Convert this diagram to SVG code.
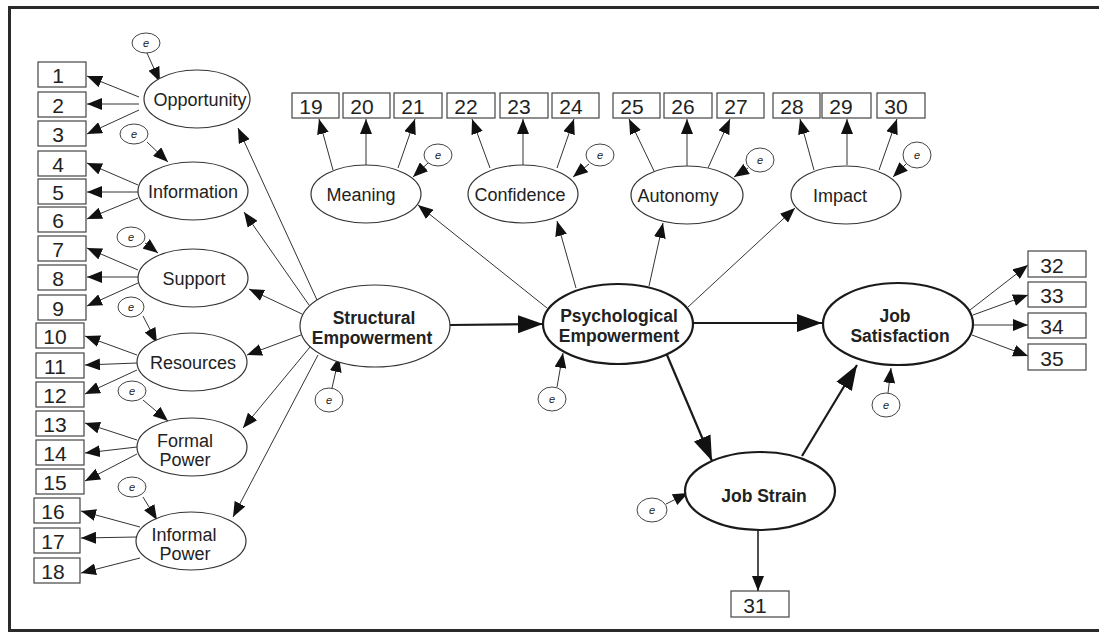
<svg xmlns="http://www.w3.org/2000/svg" width="1099" height="636" viewBox="0 0 1099 636">
<defs>
<marker id="ah" markerUnits="userSpaceOnUse" markerWidth="15" markerHeight="12" refX="15" refY="6" orient="auto"><path d="M0,0 L15,6 L0,12 z" fill="#111"/></marker>
<marker id="ahb" markerUnits="userSpaceOnUse" markerWidth="25" markerHeight="18" refX="25" refY="9" orient="auto"><path d="M0,0 L25,9 L0,18 z" fill="#111"/></marker>
</defs>
<style>
.box{fill:#fff;stroke:#444;stroke-width:1.2}
.lv{fill:#fff;stroke:#333;stroke-width:1.2}
.lvb{fill:#fff;stroke:#1a1a1a;stroke-width:2.2}
.err{fill:#fff;stroke:#444;stroke-width:1}
text{font-family:"Liberation Sans",Arial,sans-serif;fill:#222;text-anchor:middle}
.t{font-size:18px}
.tb{font-size:17.5px;font-weight:bold}
.num{font-size:21px}
.e{font-size:11px;font-style:italic}
.c{stroke:#333;stroke-width:1;fill:none;marker-end:url(#ah)}
.cm{stroke:#222;stroke-width:1.6;fill:none;marker-end:url(#ah)}
.cb{stroke:#1a1a1a;stroke-width:2.2;fill:none;marker-end:url(#ahb)}
</style>
<rect width="1099" height="636" fill="#fff"/>
<path d="M1099,7.5 L9.5,7.5 L9.5,630.5 L1099,630.5" fill="none" stroke="#2a2a2a" stroke-width="3"/>

<g id="connectors">
<!-- Opportunity -->
<line class="c" x1="147" y1="53" x2="160" y2="82"/>
<line class="c" x1="139" y1="97" x2="87" y2="76"/>
<line class="c" x1="139" y1="104" x2="87" y2="104"/>
<line class="c" x1="139" y1="110" x2="87" y2="134"/>
<!-- Information -->
<line class="c" x1="147" y1="142" x2="168" y2="162"/>
<line class="c" x1="138" y1="185" x2="87" y2="163"/>
<line class="c" x1="138" y1="192" x2="87" y2="192"/>
<line class="c" x1="138" y1="198" x2="87" y2="219"/>
<!-- Support -->
<line class="c" x1="145" y1="243" x2="158" y2="253"/>
<line class="c" x1="138" y1="270" x2="87" y2="248"/>
<line class="c" x1="138" y1="277" x2="87" y2="277"/>
<line class="c" x1="138" y1="283" x2="87" y2="306"/>
<!-- Resources -->
<line class="c" x1="143" y1="316" x2="157" y2="343"/>
<line class="c" x1="137" y1="355" x2="85" y2="336"/>
<line class="c" x1="137" y1="363" x2="85" y2="365"/>
<line class="c" x1="137" y1="370" x2="85" y2="394"/>
<!-- Formal Power -->
<line class="c" x1="143" y1="400" x2="168" y2="421"/>
<line class="c" x1="137" y1="440" x2="85" y2="423"/>
<line class="c" x1="137" y1="447" x2="85" y2="453"/>
<line class="c" x1="137" y1="454" x2="85" y2="481"/>
<!-- Informal Power -->
<line class="c" x1="143" y1="497" x2="157" y2="520"/>
<line class="c" x1="140" y1="527" x2="81" y2="511"/>
<line class="c" x1="137" y1="537" x2="81" y2="538"/>
<line class="c" x1="140" y1="558" x2="81" y2="573"/>
<!-- Structural Empowerment to dimensions -->
<line class="c" x1="317" y1="300" x2="238" y2="128"/>
<line class="c" x1="309" y1="305" x2="244" y2="212"/>
<line class="c" x1="302" y1="314" x2="249" y2="289"/>
<line class="c" x1="301" y1="335" x2="247" y2="355"/>
<line class="c" x1="310" y1="347" x2="243" y2="428"/>
<line class="c" x1="318" y1="355" x2="233" y2="517"/>
<line class="c" x1="332" y1="388" x2="339" y2="357"/>
<!-- SE to PE -->
<line class="cb" x1="450" y1="325" x2="543" y2="324"/>
<!-- Meaning -->
<line class="c" x1="333" y1="170" x2="319" y2="119"/>
<line class="c" x1="366" y1="165" x2="366" y2="119"/>
<line class="c" x1="398" y1="168" x2="415" y2="119"/>
<line class="c" x1="428" y1="163" x2="413" y2="177"/>
<!-- Confidence -->
<line class="c" x1="490" y1="168" x2="472" y2="119"/>
<line class="c" x1="523" y1="165" x2="523" y2="119"/>
<line class="c" x1="557" y1="168" x2="574" y2="119"/>
<line class="c" x1="589" y1="164" x2="573" y2="177"/>
<!-- Autonomy -->
<line class="c" x1="655" y1="173" x2="629" y2="119"/>
<line class="c" x1="687" y1="166" x2="687" y2="119"/>
<line class="c" x1="708" y1="168" x2="730" y2="119"/>
<line class="c" x1="748" y1="168" x2="734" y2="177"/>
<!-- Impact -->
<line class="c" x1="814" y1="170" x2="800" y2="119"/>
<line class="c" x1="847" y1="165" x2="847" y2="119"/>
<line class="c" x1="879" y1="170" x2="897" y2="119"/>
<line class="c" x1="906" y1="164" x2="893" y2="177"/>
<!-- PE to dimensions -->
<line class="c" x1="547" y1="308" x2="418" y2="205"/>
<line class="c" x1="576" y1="288" x2="557" y2="221"/>
<line class="c" x1="649" y1="286" x2="663" y2="223"/>
<line class="c" x1="688" y1="307" x2="795" y2="208"/>
<line class="c" x1="557" y1="387" x2="563" y2="353"/>
<!-- structural paths -->
<line class="cb" x1="693" y1="323" x2="822" y2="323"/>
<line class="cb" x1="667" y1="355" x2="712" y2="461"/>
<line class="cb" x1="802" y1="456" x2="857" y2="365"/>
<line class="c" x1="888" y1="393" x2="891" y2="368"/>
<line class="c" x1="666" y1="504" x2="688" y2="493"/>
<line class="cm" x1="758" y1="530" x2="758" y2="591"/>
<!-- JS indicators -->
<line class="c" x1="970" y1="310" x2="1028" y2="265"/>
<line class="c" x1="973" y1="315" x2="1028" y2="295"/>
<line class="c" x1="973" y1="325" x2="1028" y2="325"/>
<line class="c" x1="972" y1="335" x2="1028" y2="356"/>
</g>

<!-- indicator boxes -->
<g id="box1"><rect class="box" x="38" y="62" width="48" height="25"/><text class="num" x="58" y="83">1</text></g>
<g id="box2"><rect class="box" x="38" y="92" width="48" height="25"/><text class="num" x="58" y="113">2</text></g>
<g id="box3"><rect class="box" x="38" y="121" width="48" height="25"/><text class="num" x="58" y="142">3</text></g>
<g id="box4"><rect class="box" x="38" y="151" width="48" height="25"/><text class="num" x="58" y="172">4</text></g>
<g id="box5"><rect class="box" x="38" y="179" width="48" height="25"/><text class="num" x="58" y="200">5</text></g>
<g id="box6"><rect class="box" x="38" y="207" width="48" height="25"/><text class="num" x="58" y="228">6</text></g>
<g id="box7"><rect class="box" x="38" y="236" width="48" height="25"/><text class="num" x="58" y="257">7</text></g>
<g id="box8"><rect class="box" x="38" y="265" width="48" height="25"/><text class="num" x="58" y="286">8</text></g>
<g id="box9"><rect class="box" x="38" y="295" width="48" height="25"/><text class="num" x="58" y="316">9</text></g>
<g id="box10"><rect class="box" x="36" y="323" width="48" height="25"/><text class="num" x="55" y="344">10</text></g>
<g id="box11"><rect class="box" x="36" y="353" width="48" height="25"/><text class="num" x="55" y="374">11</text></g>
<g id="box12"><rect class="box" x="36" y="382" width="48" height="25"/><text class="num" x="55" y="403">12</text></g>
<g id="box13"><rect class="box" x="36" y="411" width="48" height="25"/><text class="num" x="55" y="432">13</text></g>
<g id="box14"><rect class="box" x="36" y="440" width="48" height="25"/><text class="num" x="55" y="461">14</text></g>
<g id="box15"><rect class="box" x="36" y="469" width="48" height="25"/><text class="num" x="55" y="490">15</text></g>
<g id="box16"><rect class="box" x="34" y="498" width="46" height="25"/><text class="num" x="53" y="519">16</text></g>
<g id="box17"><rect class="box" x="34" y="528" width="46" height="25"/><text class="num" x="53" y="549">17</text></g>
<g id="box18"><rect class="box" x="34" y="558" width="46" height="25"/><text class="num" x="53" y="579">18</text></g>

<g id="box19"><rect class="box" x="292" y="93" width="47" height="25"/><text class="num" x="311" y="114">19</text></g>
<g id="box20"><rect class="box" x="343" y="93" width="47" height="25"/><text class="num" x="362" y="114">20</text></g>
<g id="box21"><rect class="box" x="394" y="93" width="48" height="25"/><text class="num" x="413" y="114">21</text></g>
<g id="box22"><rect class="box" x="447" y="93" width="48" height="25"/><text class="num" x="466" y="114">22</text></g>
<g id="box23"><rect class="box" x="500" y="93" width="48" height="25"/><text class="num" x="519" y="114">23</text></g>
<g id="box24"><rect class="box" x="552" y="93" width="47" height="25"/><text class="num" x="571" y="114">24</text></g>
<g id="box25"><rect class="box" x="613" y="93" width="47" height="25"/><text class="num" x="632" y="114">25</text></g>
<g id="box26"><rect class="box" x="664" y="93" width="48" height="25"/><text class="num" x="683" y="114">26</text></g>
<g id="box27"><rect class="box" x="717" y="93" width="47" height="25"/><text class="num" x="736" y="114">27</text></g>
<g id="box28"><rect class="box" x="773" y="93" width="47" height="25"/><text class="num" x="792" y="114">28</text></g>
<g id="box29"><rect class="box" x="822" y="93" width="49" height="25"/><text class="num" x="841" y="114">29</text></g>
<g id="box30"><rect class="box" x="877" y="93" width="48" height="25"/><text class="num" x="896" y="114">30</text></g>

<g id="box31"><rect class="box" x="731" y="591" width="58" height="26"/><text class="num" x="755" y="613">31</text></g>
<g id="box32"><rect class="box" x="1028" y="251" width="58" height="26"/><text class="num" x="1052" y="273">32</text></g>
<g id="box33"><rect class="box" x="1028" y="282" width="58" height="25"/><text class="num" x="1052" y="303">33</text></g>
<g id="box34"><rect class="box" x="1028" y="313" width="58" height="25"/><text class="num" x="1052" y="334">34</text></g>
<g id="box35"><rect class="box" x="1028" y="344" width="58" height="26"/><text class="num" x="1052" y="366">35</text></g>

<!-- latent variables -->
<g id="opportunity"><ellipse class="lv" cx="197" cy="99" rx="53" ry="29"/><text class="t" x="200" y="106">Opportunity</text></g>
<g id="information"><ellipse class="lv" cx="193" cy="191" rx="55" ry="29"/><text class="t" x="193" y="198">Information</text></g>
<g id="support"><ellipse class="lv" cx="193" cy="278" rx="55" ry="29"/><text class="t" x="194" y="285">Support</text></g>
<g id="resources"><ellipse class="lv" cx="192" cy="362" rx="55" ry="29"/><text class="t" x="193" y="369">Resources</text></g>
<g id="formal-power"><ellipse class="lv" cx="192" cy="447" rx="55" ry="29"/><text class="t" x="185" y="447">Formal</text><text class="t" x="185" y="466">Power</text></g>
<g id="informal-power"><ellipse class="lv" cx="191" cy="541" rx="55" ry="29"/><text class="t" x="184" y="541">Informal</text><text class="t" x="185" y="560">Power</text></g>

<g id="structural-empowerment"><ellipse class="lv" cx="375" cy="326" rx="75" ry="41"/><text class="tb" x="374" y="324">Structural</text><text class="tb" x="372" y="344">Empowerment</text></g>

<g id="meaning"><ellipse class="lv" cx="366" cy="194" rx="55" ry="29"/><text class="t" x="361" y="201">Meaning</text></g>
<g id="confidence"><ellipse class="lv" cx="523" cy="194" rx="55" ry="29"/><text class="t" x="520" y="201">Confidence</text></g>
<g id="autonomy"><ellipse class="lv" cx="687" cy="195" rx="56" ry="29"/><text class="t" x="678" y="202">Autonomy</text></g>
<g id="impact"><ellipse class="lv" cx="846" cy="195" rx="55" ry="29"/><text class="t" x="840" y="202">Impact</text></g>

<g id="psychological-empowerment"><ellipse class="lvb" cx="618" cy="324" rx="75" ry="40"/><text class="tb" x="619" y="322">Psychological</text><text class="tb" x="619" y="342">Empowerment</text></g>
<g id="job-satisfaction"><ellipse class="lvb" cx="898" cy="324" rx="75" ry="41"/><text class="tb" x="895" y="322">Job</text><text class="tb" x="900" y="342">Satisfaction</text></g>
<g id="job-strain"><ellipse class="lvb" cx="760" cy="491" rx="75" ry="39"/><text class="tb" x="764" y="502">Job Strain</text></g>

<!-- error terms -->
<g id="e-opportunity"><ellipse class="err" cx="146" cy="43" rx="14" ry="10"/><text class="e" x="146" y="47">e</text></g>
<g id="e-information"><ellipse class="err" cx="134" cy="134" rx="14" ry="10"/><text class="e" x="134" y="138">e</text></g>
<g id="e-support"><ellipse class="err" cx="131" cy="237" rx="14" ry="10"/><text class="e" x="131" y="241">e</text></g>
<g id="e-resources"><ellipse class="err" cx="131" cy="307" rx="13" ry="10"/><text class="e" x="131" y="311">e</text></g>
<g id="e-formal"><ellipse class="err" cx="132" cy="391" rx="14" ry="10"/><text class="e" x="132" y="395">e</text></g>
<g id="e-informal"><ellipse class="err" cx="132" cy="487" rx="14" ry="10"/><text class="e" x="132" y="491">e</text></g>
<g id="e-structural"><ellipse class="err" cx="329" cy="400" rx="14" ry="12"/><text class="e" x="329" y="404">e</text></g>
<g id="e-meaning"><ellipse class="err" cx="438" cy="155" rx="14" ry="11"/><text class="e" x="438" y="159">e</text></g>
<g id="e-confidence"><ellipse class="err" cx="600" cy="155" rx="14" ry="11"/><text class="e" x="600" y="159">e</text></g>
<g id="e-autonomy"><ellipse class="err" cx="760" cy="160" rx="14" ry="12"/><text class="e" x="760" y="164">e</text></g>
<g id="e-impact"><ellipse class="err" cx="917" cy="155" rx="14" ry="13"/><text class="e" x="917" y="159">e</text></g>
<g id="e-psychological"><ellipse class="err" cx="552" cy="399" rx="14" ry="12"/><text class="e" x="552" y="403">e</text></g>
<g id="e-satisfaction"><ellipse class="err" cx="886" cy="405" rx="14" ry="12"/><text class="e" x="886" y="409">e</text></g>
<g id="e-strain"><ellipse class="err" cx="652" cy="510" rx="15" ry="12"/><text class="e" x="652" y="514">e</text></g>
</svg>
